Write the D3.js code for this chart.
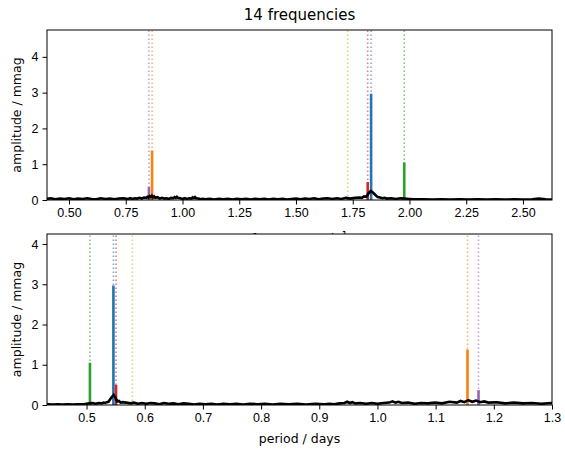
<!DOCTYPE html>
<html>
<head>
<meta charset="utf-8">
<script src="https://cdn.jsdelivr.net/npm/d3@7"></script>
<style>
  body { margin: 0; background: #fff; }
  svg { font-family: 'DejaVu Sans', sans-serif; }
  .tick text { font-size: 12.5px; fill: #000; }
  .tick line { stroke: #000; }
  .domain { display: none; }
</style>
</head>
<body>
<svg width="565" height="457"></svg>
<script>
// extracted frequencies (cycles per day), amplitudes (mmag), tab10 colour index
const peakFreq = [1.831, 0.866, 1.977, 1.816, 0.852, 1.728];
const peakAmp = [2.97, 1.38, 1.05, 0.50, 0.37, 0.05];
const peakColorIdx = [0, 1, 2, 3, 4, 8];

// residual amplitude spectrum
const specFreq = [
  0.40, 0.42, 0.44, 0.46, 0.48, 0.50, 0.52, 0.54, 0.56, 0.58,
  0.60, 0.62, 0.64, 0.66, 0.68, 0.70, 0.72, 0.74, 0.76, 0.77,
  0.78, 0.79, 0.80, 0.81, 0.82, 0.83, 0.84, 0.845, 0.85, 0.855,
  0.86, 0.865, 0.87, 0.875, 0.88, 0.89, 0.90, 0.91, 0.92, 0.93,
  0.94, 0.95, 0.96, 0.965, 0.97, 0.975, 0.98, 0.99, 1.00, 1.01,
  1.02, 1.03, 1.04, 1.045, 1.05, 1.055, 1.06, 1.07, 1.08, 1.09,
  1.10, 1.12, 1.14, 1.16, 1.18, 1.20, 1.22, 1.24, 1.26, 1.28,
  1.30, 1.32, 1.34, 1.36, 1.38, 1.40, 1.42, 1.44, 1.46, 1.48,
  1.50, 1.52, 1.54, 1.56, 1.58, 1.60, 1.62, 1.64, 1.66, 1.68,
  1.70, 1.72, 1.74, 1.76, 1.78, 1.79, 1.80, 1.81, 1.82, 1.83,
  1.84, 1.85, 1.86, 1.87, 1.88, 1.89, 1.90, 1.92, 1.94, 1.96,
  1.98, 2.00, 2.02, 2.06, 2.10, 2.14, 2.18, 2.22, 2.26, 2.30,
  2.34, 2.38, 2.42, 2.46, 2.50, 2.54, 2.57, 2.60, 2.64
];
const specAmp = [
  0.03, 0.05, 0.02, 0.04, 0.03, 0.05, 0.02, 0.04, 0.03, 0.05,
  0.03, 0.02, 0.05, 0.03, 0.04, 0.02, 0.04, 0.05, 0.03, 0.05,
  0.03, 0.05, 0.04, 0.06, 0.04, 0.07, 0.06, 0.09, 0.07, 0.11,
  0.08, 0.12, 0.07, 0.10, 0.06, 0.08, 0.04, 0.06, 0.04, 0.05,
  0.03, 0.06, 0.05, 0.08, 0.06, 0.09, 0.06, 0.05, 0.03, 0.05,
  0.03, 0.05, 0.04, 0.07, 0.05, 0.08, 0.05, 0.04, 0.02, 0.03,
  0.02, 0.03, 0.01, 0.03, 0.02, 0.03, 0.01, 0.03, 0.02, 0.03,
  0.01, 0.03, 0.02, 0.03, 0.01, 0.03, 0.02, 0.03, 0.01, 0.03,
  0.04, 0.02, 0.04, 0.03, 0.05, 0.02, 0.04, 0.05, 0.03, 0.05,
  0.03, 0.06, 0.04, 0.06, 0.07, 0.06, 0.10, 0.09, 0.19, 0.25,
  0.20, 0.14, 0.08, 0.07, 0.05, 0.06, 0.04, 0.05, 0.03, 0.05,
  0.04, 0.03, 0.02, 0.02, 0.01, 0.02, 0.01, 0.02, 0.01, 0.02,
  0.01, 0.02, 0.01, 0.02, 0.01, 0.02, 0.04, 0.02, 0.01
];

const freqTicks = [0.5, 0.75, 1.0, 1.25, 1.5, 1.75, 2.0, 2.25, 2.5];
const periodTicks = [0.5, 0.6, 0.7, 0.8, 0.9, 1.0, 1.1, 1.2, 1.3];
const ampTicks = [0, 1, 2, 3, 4];

const tab10 = d3.schemeCategory10;

const svg = d3.select('svg');

const peaks = peakFreq.map((f, i) => ({ f, a: peakAmp[i], color: tab10[peakColorIdx[i]] }));
const spectrum = specFreq.map((f, i) => ({ f, a: specAmp[i] }));

const panels = [
  {
    id: 'top', top: 30, bottom: 200, xDomain: [0.403, 2.628], yMax: 4.75,
    xVal: f => f, ticks: freqTicks, fmt: d3.format('.2f'),
    xlabel: 'frequency / d', sup: '\u22121'
  },
  {
    id: 'bot', top: 234, bottom: 405, xDomain: [0.432, 1.3], yMax: 4.25,
    xVal: f => 1 / f, ticks: periodTicks, fmt: d3.format('.1f'),
    xlabel: 'period / days', sup: null
  }
];

const left = 47;
const right = 552;

panels.forEach(p => {
  const x = d3.scaleLinear().domain(p.xDomain).range([left, right]);
  const y = d3.scaleLinear().domain([0, p.yMax]).range([p.bottom, p.top]);

  const g = svg.append('g').attr('class', p.id);

  // white axes background, covers the label of the panel above
  g.append('rect')
    .attr('x', left).attr('y', p.top)
    .attr('width', right - left).attr('height', p.bottom - p.top)
    .attr('fill', '#fff');

  g.append('clipPath').attr('id', 'clip-' + p.id)
    .append('rect')
    .attr('x', left).attr('y', p.top)
    .attr('width', right - left).attr('height', p.bottom - p.top);

  const plot = g.append('g').attr('clip-path', `url(#clip-${p.id})`);

  // dotted markers at each extracted frequency
  plot.selectAll('line.mark')
    .data(peaks)
    .enter().append('line')
    .attr('class', 'mark')
    .attr('x1', d => x(p.xVal(d.f)))
    .attr('x2', d => x(p.xVal(d.f)))
    .attr('y1', y(0))
    .attr('y2', y(p.yMax))
    .attr('stroke', d => d.color)
    .attr('stroke-opacity', 0.6)
    .attr('stroke-width', 1.6)
    .attr('stroke-dasharray', '1.6,2.4');

  // amplitude bars
  plot.selectAll('line.peak')
    .data(peaks)
    .enter().append('line')
    .attr('class', 'peak')
    .attr('x1', d => x(p.xVal(d.f)))
    .attr('x2', d => x(p.xVal(d.f)))
    .attr('y1', y(0))
    .attr('y2', d => y(d.a))
    .attr('stroke', d => d.color)
    .attr('stroke-width', 2.6);

  // residual spectrum
  const line = d3.line()
    .x(d => x(p.xVal(d.f)))
    .y(d => y(d.a));

  plot.append('path')
    .datum(spectrum)
    .attr('d', line)
    .attr('fill', 'none')
    .attr('stroke', '#000')
    .attr('stroke-width', 2.6)
    .attr('stroke-linejoin', 'miter');

  // frame
  g.append('rect')
    .attr('x', left).attr('y', p.top)
    .attr('width', right - left).attr('height', p.bottom - p.top)
    .attr('fill', 'none')
    .attr('stroke', '#000')
    .attr('stroke-width', 1);

  g.append('g')
    .attr('transform', `translate(0,${p.bottom})`)
    .call(d3.axisBottom(x).tickValues(p.ticks).tickFormat(p.fmt).tickSize(4.5).tickPadding(4));

  g.append('g')
    .attr('transform', `translate(${left},0)`)
    .call(d3.axisLeft(y).tickValues(ampTicks).tickFormat(d3.format('d')).tickSize(4.5).tickPadding(4));

  g.append('text')
    .attr('transform', `translate(17,${(p.top + p.bottom) / 2}) rotate(-90)`)
    .attr('text-anchor', 'middle')
    .attr('dominant-baseline', 'middle')
    .attr('font-size', 12.5)
    .text('amplitude / mmag');
});

// x labels: the upper one is drawn first so the lower panel hides it
const xl = svg.insert('text', 'g.bot')
  .attr('x', (left + right) / 2)
  .attr('y', 243)
  .attr('text-anchor', 'middle')
  .attr('font-size', 12.5)
  .text(panels[0].xlabel);
xl.append('tspan').attr('dy', -5).attr('font-size', 9).text(panels[0].sup);

svg.append('text')
  .attr('x', (left + right) / 2)
  .attr('y', 443)
  .attr('text-anchor', 'middle')
  .attr('font-size', 12.5)
  .text(panels[1].xlabel);

svg.append('text')
  .attr('x', (left + right) / 2)
  .attr('y', 20)
  .attr('text-anchor', 'middle')
  .attr('font-size', 15)
  .text('14 frequencies');
</script>
</body>
</html>
